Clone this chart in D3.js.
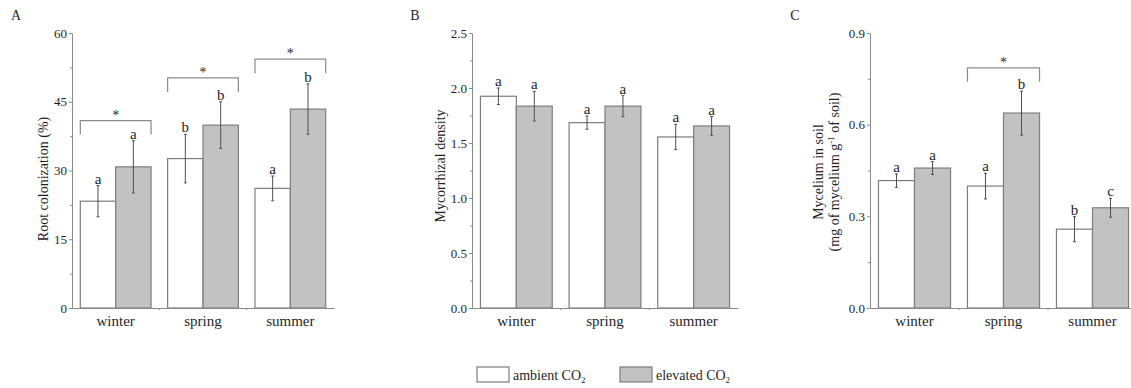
<!DOCTYPE html>
<html>
<head>
<meta charset="utf-8">
<script src="https://cdn.jsdelivr.net/npm/d3@7"></script>
<style>
  html, body { margin: 0; padding: 0; background: #fff; }
  svg { display: block; }
  text { font-family: "Liberation Serif", "DejaVu Serif", serif; fill: #1f1f1f; }
</style>
</head>
<body>
<svg id="chart" width="1131" height="388"></svg>
<script>
// Seasons shared by all three panels
const seasons = ["winter", "spring", "summer"];

// A: root colonization (%)
const rootAmbient = [23.3, 32.6, 26.1];
const rootAmbientErr = [3.4, 5.3, 2.7];
const rootElevated = [30.8, 39.9, 43.4];
const rootElevatedErr = [5.7, 5.1, 5.5];
const rootAmbientLetters = ["a", "b", "a"];
const rootElevatedLetters = ["a", "b", "b"];
const rootBrackets = [40.9, 50.2, 54.3];
const rootTicks = [0, 15, 30, 45, 60];

// B: mycorrhizal density
const densityAmbient = [1.925, 1.685, 1.555];
const densityAmbientErr = [0.075, 0.06, 0.115];
const densityElevated = [1.835, 1.835, 1.655];
const densityElevatedErr = [0.135, 0.095, 0.085];
const densityAmbientLetters = ["a", "a", "a"];
const densityElevatedLetters = ["a", "a", "a"];
const densityBrackets = [null, null, null];
const densityTicks = [0, 0.5, 1.0, 1.5, 2.0, 2.5];

// C: mycelium in soil
const myceliumAmbient = [0.417, 0.399, 0.258];
const myceliumAmbientErr = [0.022, 0.042, 0.041];
const myceliumElevated = [0.458, 0.638, 0.328];
const myceliumElevatedErr = [0.021, 0.072, 0.031];
const myceliumAmbientLetters = ["a", "a", "b"];
const myceliumElevatedLetters = ["a", "b", "c"];
const myceliumBrackets = [null, 0.786, null];
const myceliumTicks = [0, 0.3, 0.6, 0.9];

const treatments = ["ambient", "elevated"];
const legendLabels = ["ambient CO", "elevated CO"];
const fills = { ambient: "#ffffff", elevated: "#c2c2c2" };

const svg = d3.select("#chart");
const axisColor = "#8a8a8a";
const barStroke = "#7d7d7d";
const errColor = "#505050";

const yTop = 33, yBot = 308;

const panels = [
  { letter: "A", x0: 72, x1: 334, labelX: 16, max: 60, ticks: rootTicks, fmt: d3.format("d"),
    amb: rootAmbient, ambErr: rootAmbientErr, ele: rootElevated, eleErr: rootElevatedErr,
    ambL: rootAmbientLetters, eleL: rootElevatedLetters, brackets: rootBrackets,
    titleY: 179, title: [{ text: "Root colonization (%)", x: 48 }] },
  { letter: "B", x0: 472, x1: 738, labelX: 415, max: 2.5, ticks: densityTicks, fmt: d3.format(".1f"),
    amb: densityAmbient, ambErr: densityAmbientErr, ele: densityElevated, eleErr: densityElevatedErr,
    ambL: densityAmbientLetters, eleL: densityElevatedLetters, brackets: densityBrackets,
    titleY: 166, title: [{ text: "Mycorrhizal density", x: 445 }] },
  { letter: "C", x0: 870, x1: 1137, labelX: 795, max: 0.9, ticks: myceliumTicks, fmt: d3.format(".1f"),
    amb: myceliumAmbient, ambErr: myceliumAmbientErr, ele: myceliumElevated, eleErr: myceliumElevatedErr,
    ambL: myceliumAmbientLetters, eleL: myceliumElevatedLetters, brackets: myceliumBrackets,
    titleY: 172, title: [{ text: "Mycelium in soil", x: 823 }, { x: 839, units: true }] }
];

panels.forEach(p => {
  const g = svg.append("g");

  const x = d3.scaleBand().domain(seasons).range([p.x0, p.x1])
    .paddingInner(0.19).paddingOuter(0.095);
  const xs = d3.scaleBand().domain(treatments).range([0, x.bandwidth()]);
  const y = d3.scaleLinear().domain([0, p.max]).range([yBot, yTop]);

  // panel letter
  g.append("text").attr("x", p.labelX).attr("y", 20)
    .attr("text-anchor", "middle").style("font-size", "14px").text(p.letter);

  // minor ticks between the labelled ones
  const stepT = p.ticks[1] - p.ticks[0];
  const minors = d3.range(p.ticks.length - 1).map(i => p.ticks[i] + stepT / 2);
  g.append("g").attr("transform", `translate(${p.x0},0)`)
    .call(d3.axisLeft(y).tickValues(minors).tickSize(2).tickFormat(""))
    .call(a => a.select(".domain").remove())
    .call(a => a.selectAll("line").attr("stroke", axisColor));

  // y axis
  const ya = g.append("g").attr("transform", `translate(${p.x0},0)`)
    .call(d3.axisLeft(y).tickValues(p.ticks).tickSize(3).tickSizeOuter(0).tickPadding(2).tickFormat(p.fmt));
  ya.select(".domain").attr("stroke", axisColor);
  ya.selectAll("line").attr("stroke", axisColor);
  ya.selectAll("text").style("font-size", "13px").attr("fill", "#2a2a2a").attr("font-family", null);

  // bars
  const rows = seasons.map((s, i) => [
    { s, t: "ambient", v: p.amb[i], e: p.ambErr[i], l: p.ambL[i] },
    { s, t: "elevated", v: p.ele[i], e: p.eleErr[i], l: p.eleL[i] }
  ]).flat();

  g.append("g").selectAll("rect").data(rows).join("rect")
    .attr("x", d => x(d.s) + xs(d.t))
    .attr("y", d => y(d.v))
    .attr("width", xs.bandwidth())
    .attr("height", d => yBot - y(d.v))
    .attr("fill", d => fills[d.t])
    .attr("stroke", barStroke)
    .attr("stroke-width", 1.2);

  // x axis line and ticks at group boundaries
  const xa = g.append("g").attr("transform", `translate(0,${yBot})`)
    .call(d3.axisBottom(x).tickSize(0).tickSizeOuter(0).tickPadding(7));
  xa.select(".domain").attr("stroke", axisColor);
  xa.selectAll("text").style("font-size", "15px").attr("fill", "#1f1f1f").attr("font-family", null);
  const bounds = seasons.slice(1).map(s => x(s) - x.step() * x.paddingInner() / 2);
  g.append("g").selectAll("line").data(bounds).join("line")
    .attr("x1", d => d).attr("x2", d => d)
    .attr("y1", yBot).attr("y2", yBot + 2)
    .attr("stroke", axisColor);

  // error bars
  const cx = d => x(d.s) + xs(d.t) + xs.bandwidth() / 2;
  const eg = g.append("g").attr("stroke", errColor).attr("stroke-width", 1);
  eg.selectAll("line.v").data(rows).join("line").attr("class", "v")
    .attr("x1", cx).attr("x2", cx)
    .attr("y1", d => y(d.v + d.e)).attr("y2", d => y(d.v - d.e));
  eg.selectAll("line.t").data(rows).join("line").attr("class", "t")
    .attr("x1", d => cx(d) - 1.5).attr("x2", d => cx(d) + 1.5)
    .attr("y1", d => y(d.v + d.e)).attr("y2", d => y(d.v + d.e));
  eg.selectAll("line.b").data(rows).join("line").attr("class", "b")
    .attr("x1", d => cx(d) - 1.5).attr("x2", d => cx(d) + 1.5)
    .attr("y1", d => y(d.v - d.e)).attr("y2", d => y(d.v - d.e));

  // significance letters
  g.append("g").selectAll("text").data(rows).join("text")
    .attr("x", cx)
    .attr("y", d => y(d.v + d.e) - 2)
    .attr("text-anchor", "middle")
    .style("font-size", "15px")
    .text(d => d.l);

  // brackets with asterisks
  const br = seasons.map((s, i) => ({ s, v: p.brackets[i] })).filter(d => d.v != null);
  const bg = g.append("g");
  bg.selectAll("path").data(br).join("path")
    .attr("d", d => {
      const l = x(d.s), r = x(d.s) + x.bandwidth(), yy = y(d.v);
      return `M${l},${yy + 14}V${yy}H${r}V${yy + 14}`;
    })
    .attr("fill", "none").attr("stroke", axisColor).attr("stroke-width", 1.2);
  bg.selectAll("text").data(br).join("text")
    .attr("x", d => x(d.s) + x.bandwidth() / 2)
    .attr("y", d => y(d.v) - 1)
    .attr("text-anchor", "middle")
    .style("font-size", "14px")
    .text("*");

  // y axis title(s)
  p.title.forEach(t => {
    const tx = g.append("text")
      .attr("transform", `translate(${t.x},${p.titleY}) rotate(-90)`)
      .attr("text-anchor", "middle")
      .style("font-size", "14px");
    if (t.units) {
      tx.append("tspan").text("(mg of mycelium g");
      tx.append("tspan").attr("dy", -5).style("font-size", "9px").text("-1");
      tx.append("tspan").attr("dy", 5).text(" of soil)");
    } else {
      tx.text(t.text);
    }
  });
});

// legend
const legend = svg.append("g");
const legendX = [477, 620];
treatments.forEach((t, i) => {
  legend.append("rect")
    .attr("x", legendX[i]).attr("y", 367)
    .attr("width", 32).attr("height", 15)
    .attr("fill", fills[t]).attr("stroke", barStroke).attr("stroke-width", 1.2);
  const tx = legend.append("text")
    .attr("x", legendX[i] + 36).attr("y", 380)
    .style("font-size", "14px");
  tx.append("tspan").text(legendLabels[i]);
  tx.append("tspan").attr("dy", 3).style("font-size", "9px").text("2");
});
</script>
</body>
</html>
